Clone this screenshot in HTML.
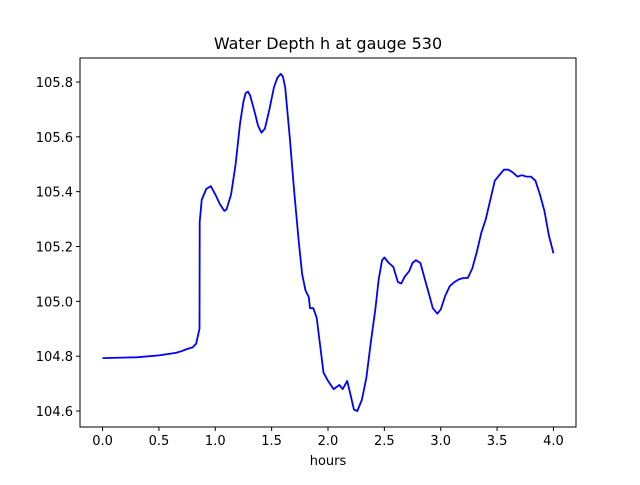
<!DOCTYPE html>
<html><head><meta charset="utf-8"><style>
html,body{margin:0;padding:0;background:#fff;}
svg text{font-family:"DejaVu Sans","Liberation Sans",sans-serif;fill:#000;}
</style></head><body>
<svg id="chart" width="640" height="480" xmlns="http://www.w3.org/2000/svg">
<rect width="640" height="480" fill="#fff"/>
<text x="328" y="49" font-size="16" text-anchor="middle">Water Depth h at gauge 530</text>
<g id="ticks"></g>
<polyline id="line" fill="none" stroke="#0000ff" stroke-width="1.8" stroke-linejoin="round"/>
<rect x="80" y="58" width="496" height="369" fill="none" stroke="#000" stroke-width="1"/>
<text x="328" y="465" font-size="13" text-anchor="middle">hours</text>
</svg>
<script>
const hours=[0,0.3,0.5,0.65,0.7,0.75,0.8,0.83,0.86,0.862,0.88,0.92,0.96,1.0,1.04,1.08,1.1,1.14,1.18,1.22,1.25,1.27,1.29,1.31,1.35,1.38,1.41,1.44,1.48,1.52,1.55,1.58,1.6,1.62,1.66,1.7,1.74,1.77,1.8,1.83,1.84,1.87,1.9,1.93,1.96,2.0,2.05,2.1,2.13,2.17,2.2,2.23,2.26,2.3,2.34,2.38,2.42,2.45,2.48,2.5,2.54,2.58,2.62,2.65,2.68,2.72,2.75,2.78,2.82,2.86,2.9,2.93,2.97,3.0,3.04,3.08,3.12,3.16,3.2,3.24,3.28,3.32,3.36,3.4,3.44,3.48,3.52,3.56,3.6,3.64,3.68,3.72,3.76,3.8,3.84,3.88,3.92,3.96,4.0];
const depth=[104.793,104.796,104.803,104.812,104.818,104.826,104.832,104.845,104.9,105.29,105.37,105.41,105.42,105.39,105.355,105.33,105.335,105.39,105.5,105.65,105.73,105.76,105.765,105.75,105.69,105.64,105.615,105.63,105.7,105.78,105.815,105.83,105.82,105.78,105.6,105.4,105.22,105.1,105.04,105.015,104.975,104.975,104.94,104.84,104.74,104.71,104.68,104.695,104.68,104.71,104.66,104.605,104.6,104.64,104.72,104.85,104.97,105.08,105.15,105.16,105.14,105.125,105.07,105.065,105.09,105.11,105.14,105.15,105.14,105.08,105.02,104.975,104.955,104.97,105.02,105.055,105.07,105.08,105.085,105.085,105.12,105.18,105.25,105.3,105.37,105.44,105.46,105.48,105.48,105.47,105.455,105.46,105.455,105.455,105.44,105.39,105.33,105.24,105.175];
const xTicks=[0,0.5,1,1.5,2,2.5,3,3.5,4];
const xTickLabels=["0.0","0.5","1.0","1.5","2.0","2.5","3.0","3.5","4.0"];
const yTicks=[104.6,104.8,105.0,105.2,105.4,105.6,105.8];
const yTickLabels=["104.6","104.8","105.0","105.2","105.4","105.6","105.8"];
const X0=80,X1=576,Y0=427,Y1=58;
const xMin=-0.2,xMax=4.2,yMin=104.5417,yMax=105.8875;
const sx=v=>X0+(v-xMin)/(xMax-xMin)*(X1-X0);
const sy=v=>Y0-(v-yMin)/(yMax-yMin)*(Y0-Y1);
const NS="http://www.w3.org/2000/svg";
const g=document.getElementById('ticks');
function mk(t,a){const e=document.createElementNS(NS,t);for(const k in a)e.setAttribute(k,a[k]);g.appendChild(e);return e;}
xTicks.forEach((v,i)=>{
  const l=mk('line',{x1:sx(v),x2:sx(v),y1:Y0,y2:Y0+4,stroke:'#000'});
  
  
  const t=mk('text',{x:sx(v),y:Y0+18,'font-size':'13','text-anchor':'middle'});
  t.textContent=xTickLabels[i];
  
  
});
yTicks.forEach((v,i)=>{
  const l=mk('line',{x1:X0-4,x2:X0,y1:sy(v),y2:sy(v),stroke:'#000'});
  
  
  const t=mk('text',{x:X0-7,y:sy(v)+5,'font-size':'13','text-anchor':'end'});
  t.textContent=yTickLabels[i];
  
  
});
document.getElementById('line').setAttribute('points',hours.map((h,i)=>sx(h).toFixed(1)+','+sy(depth[i]).toFixed(1)).join(' '));
</script>
</body></html>
